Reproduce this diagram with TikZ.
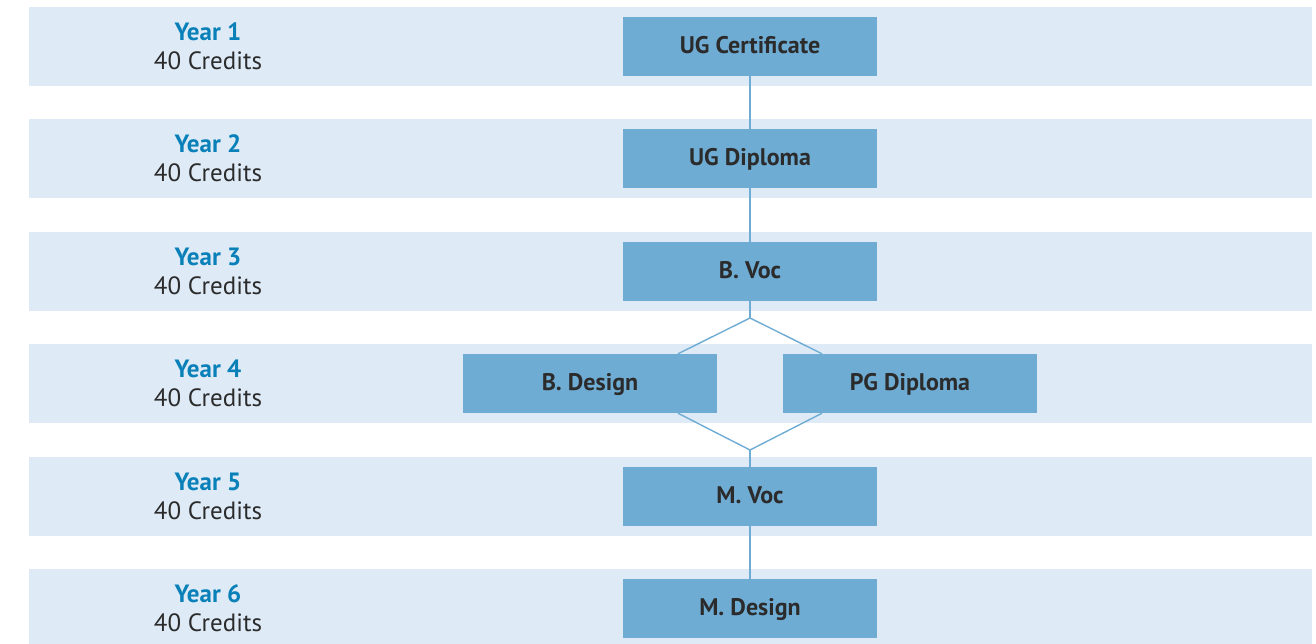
\documentclass[tikz,border=0pt]{standalone}
\usepackage{fontspec}
\setmainfont{PT Sans}
\usepackage{tikz}
\usetikzlibrary{positioning}

\definecolor{bandblue}{HTML}{DEEBF7}
\definecolor{boxblue}{HTML}{6FACD4}
\definecolor{yearblue}{HTML}{0A80B8}
\definecolor{txtdark}{HTML}{2B2B2B}

\begin{document}
\begin{tikzpicture}[x=1pt, y=-1pt]
        \tikzstyle{every node} = [font=\fontsize{25}{29}\selectfont, text=txtdark]
        \tikzstyle{band} = [fill=bandblue, draw=none]
        \tikzstyle{award} = [fill=boxblue, draw=none, inner sep=0pt, minimum height=59pt, minimum width=254pt,
                text height=17pt, text depth=3pt, font=\fontsize{24}{28}\selectfont\bfseries]
        \tikzstyle{yearlbl} = [inner sep=0pt, align=center]
        \tikzstyle{link} = [draw=boxblue, line width=1.4pt]

        \useasboundingbox (0,0) rectangle (1316,643);

        \def\colyear{208}
        \def\colmid{750}

        % bands and year labels
        \foreach[count=\r] \ytop in {7,119,232,344,457,569}
        {
            \fill[band] (29,\ytop) rectangle (1312,\ytop+79);
            \node[yearlbl] (year\r) at (\colyear,\ytop+39.5) {{\color{yearblue}\bfseries Year \r}\\40 Credits};
        }

        % awards
        \node[award] (ugcert) at (\colmid,46.5) {UG Certificate};
        \node[award] (ugdip)  at (\colmid,158.5) {UG Diploma};
        \node[award] (bvoc)   at (\colmid,271.5) {B. Voc};
        \node[award] (bdes)   at (590,383.5) {B. Design};
        \node[award] (pgdip)  at (910,383.5) {PG Diploma};
        \node[award] (mvoc)   at (\colmid,496.5) {M. Voc};
        \node[award] (mdes)   at (\colmid,608.5) {M. Design};

        \coordinate (splt) at (\colmid,318);
        \coordinate (jn)   at (\colmid,450);

        \draw[link] (ugcert) -- (ugdip);
        \draw[link] (ugdip) -- (bvoc);
        \draw[link] (bvoc) -- (splt);
        \draw[link] ([xshift=88pt]bdes.north) -- (splt) -- ([xshift=-88pt]pgdip.north);
        \draw[link] ([xshift=88pt]bdes.south) -- (jn) -- ([xshift=-88pt]pgdip.south);
        \draw[link] (jn) -- (mvoc);
        \draw[link] (mvoc) -- (mdes);
    \end{tikzpicture}
\end{document}
